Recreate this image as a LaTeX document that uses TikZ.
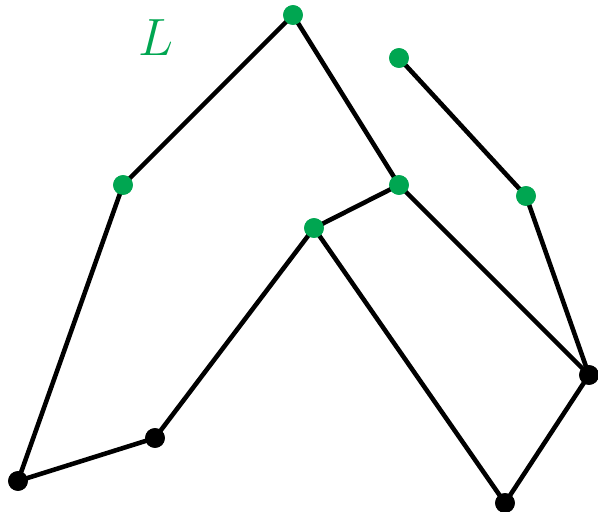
\documentclass[tikz,border=0pt]{standalone}
\usepackage{tikz}
\definecolor{vgreen}{RGB}{0,166,81}
\begin{document}
\begin{tikzpicture}[x=0.03cm,y=-0.03cm,
  gv/.style={circle,fill=vgreen,inner sep=0pt,minimum size=0.59cm},
  bv/.style={circle,fill=black,inner sep=0pt,minimum size=0.59cm},
  edge/.style={line width=3.9pt}]
\useasboundingbox (0,0) rectangle (598,511);
% --- green vertices ---
\node[gv] (top)  at (293,15)  {};
\node[gv] (iso)  at (399,58)  {};
\node[gv] (left) at (123,185) {};
\node[gv] (mid)  at (399,185) {};
\node[gv] (rt)   at (526,196) {};
\node[gv] (in)   at (314,228) {};
% --- black vertices ---
\node[bv] (bl)   at (18,481)  {};
\node[bv] (bm)   at (155,438) {};
\node[bv] (br)   at (589,375) {};
\node[bv] (bot)  at (505,503) {};
% --- label ---
\node[text=vgreen,font=\Huge,scale=1.8] (lab) at (156,38) {$L$};
% --- edges ---
\draw[edge] (bl.center) -- (left.center) -- (top.center) -- (mid.center) -- (in.center);
\draw[edge] (mid.center) -- (br.center);
\draw[edge] (iso.center) -- (rt.center) -- (br.center) -- (bot.center) -- (in.center) -- (bm.center) -- (bl.center);
% redraw vertices over edges
\foreach \v/\s in {top/gv,iso/gv,left/gv,mid/gv,rt/gv,in/gv,bl/bv,bm/bv,br/bv,bot/bv}
  \node[\s] at (\v) {};
\end{tikzpicture}
\end{document}
